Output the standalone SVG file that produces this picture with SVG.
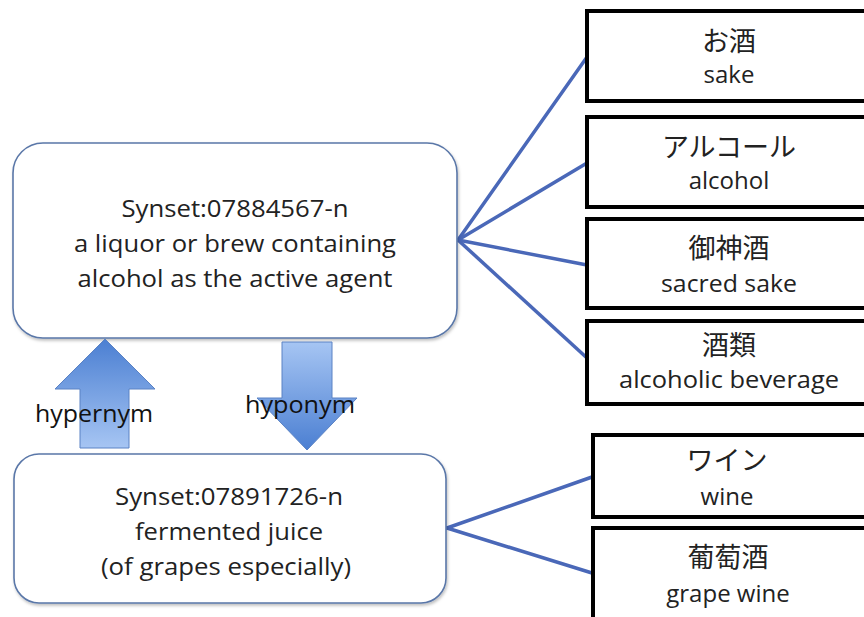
<svg xmlns="http://www.w3.org/2000/svg" width="864" height="617" viewBox="0 0 864 617">
<defs>
<linearGradient id="gUp" x1="0" y1="1" x2="0" y2="0">
<stop offset="0" stop-color="#a6c5f3"/>
<stop offset="1" stop-color="#4b7fd2"/>
</linearGradient>
<linearGradient id="gDown" x1="0" y1="0" x2="0" y2="1">
<stop offset="0" stop-color="#a6c5f3"/>
<stop offset="1" stop-color="#4b7fd2"/>
</linearGradient>
<filter id="sh" x="-5%" y="-5%" width="110%" height="115%">
<feDropShadow dx="1" dy="2" stdDeviation="1.5" flood-color="#000" flood-opacity="0.25"/>
</filter>
</defs>
<style>
.syn{fill:#ffffff;stroke:#5a77a8;stroke-width:1.6}
.word{fill:#ffffff;stroke:#000000;stroke-width:4}
.t{font-family:"Open Sans","Noto Sans",sans-serif;fill:#222;text-anchor:middle}
.s{font-size:23px}
.w{font-size:24px}
.j{font-family:"Noto Sans CJK JP",sans-serif;font-size:27px;fill:#222;text-anchor:middle}
.lbl{font-family:"Open Sans","Noto Sans",sans-serif;font-size:24px;fill:#111}
.arrow{stroke:#5a82c4;stroke-width:1}
.con{stroke:#4a68b8;stroke-width:3.5;fill:none;stroke-linecap:round}
</style>
<rect width="864" height="617" fill="#ffffff"/>

<g id="connectors">
<line class="con" x1="458" y1="240" x2="587" y2="57"/>
<line class="con" x1="458" y1="240" x2="587" y2="163"/>
<line class="con" x1="458" y1="240" x2="587" y2="265"/>
<line class="con" x1="458" y1="240" x2="587" y2="358"/>
<line class="con" x1="447" y1="528" x2="592" y2="477"/>
<line class="con" x1="447" y1="528" x2="592" y2="573"/>
</g>

<g id="synset1">
<rect class="syn" x="13" y="143" width="444" height="195" rx="30" filter="url(#sh)"/>
<text class="t s" x="235" y="217" textLength="227" lengthAdjust="spacingAndGlyphs">Synset:07884567-n</text>
<text class="t s" x="235" y="252" textLength="322" lengthAdjust="spacingAndGlyphs">a liquor or brew containing</text>
<text class="t s" x="235" y="287" textLength="315" lengthAdjust="spacingAndGlyphs">alcohol as the active agent</text>
</g>

<g id="synset2">
<rect class="syn" x="14" y="454" width="432" height="149" rx="25" filter="url(#sh)"/>
<text class="t s" x="229" y="505" textLength="228" lengthAdjust="spacingAndGlyphs">Synset:07891726-n</text>
<text class="t s" x="229" y="540" textLength="188" lengthAdjust="spacingAndGlyphs">fermented juice</text>
<text class="t s" x="226" y="575" textLength="250" lengthAdjust="spacingAndGlyphs">(of grapes especially)</text>
</g>

<g id="hypernym">
<polygon class="arrow" fill="url(#gUp)" points="105,339 155,389 129,389 129,448 80,448 80,389 55,389"/>
<text class="lbl" x="35" y="422" textLength="118" lengthAdjust="spacingAndGlyphs">hypernym</text>
</g>

<g id="hyponym">
<polygon class="arrow" fill="url(#gDown)" points="282,342 332,342 332,398 357,398 307,450 257,398 282,398"/>
<text class="lbl" x="245" y="413" textLength="110" lengthAdjust="spacingAndGlyphs">hyponym</text>
</g>

<g id="w-sake">
<rect class="word" x="587" y="11" width="300" height="90"/>
<text class="j" x="729" y="51">お酒</text>
<text class="t w" x="729" y="83">sake</text>
</g>

<g id="w-alcohol">
<rect class="word" x="587" y="117" width="300" height="90"/>
<text class="j" x="729" y="157">アルコール</text>
<text class="t w" x="729" y="189">alcohol</text>
</g>

<g id="w-sacred-sake">
<rect class="word" x="587" y="219" width="300" height="89"/>
<text class="j" x="729" y="258">御神酒</text>
<text class="t w" x="729" y="292" textLength="136" lengthAdjust="spacingAndGlyphs">sacred sake</text>
</g>

<g id="w-beverage">
<rect class="word" x="587" y="321" width="300" height="83"/>
<text class="j" x="729" y="355">酒類</text>
<text class="t w" x="729" y="388" textLength="220" lengthAdjust="spacingAndGlyphs">alcoholic beverage</text>
</g>

<g id="w-wine">
<rect class="word" x="593" y="435" width="300" height="82"/>
<text class="j" x="727" y="470">ワイン</text>
<text class="t w" x="727" y="505">wine</text>
</g>

<g id="w-grape-wine">
<rect class="word" x="593" y="528" width="300" height="120"/>
<text class="j" x="728" y="567">葡萄酒</text>
<text class="t w" x="728" y="602">grape wine</text>
</g>
</svg>
